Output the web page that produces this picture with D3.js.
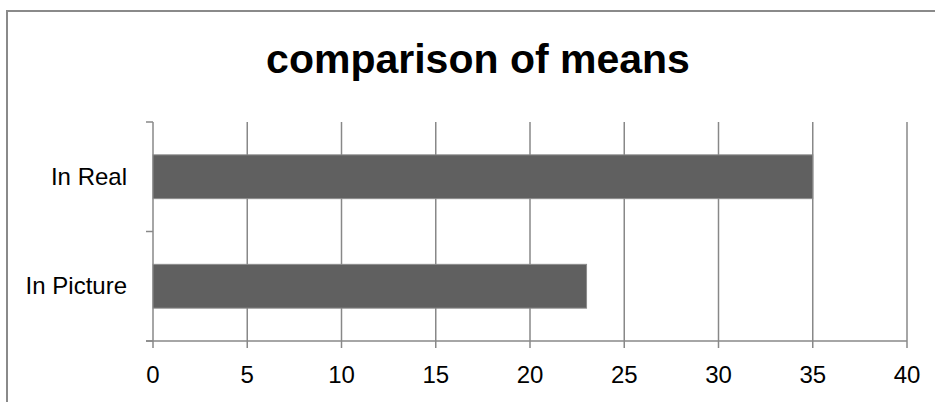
<!DOCTYPE html>
<html>
<head>
<meta charset="utf-8">
<script src="https://cdn.jsdelivr.net/npm/d3@7"></script>
<style>
  html, body { margin: 0; padding: 0; background: #fff; }
  svg { display: block; }
  text { font-family: "Liberation Sans", Arial, sans-serif; fill: #000; }
</style>
</head>
<body>
<svg id="chart" width="935" height="402"></svg>
<script>
// Chart data
const title = "comparison of means";
const categories = ["In Real", "In Picture"];
const means = [35, 23];
const xTicks = [0, 5, 10, 15, 20, 25, 30, 35, 40];

const svg = d3.select("#chart");
const W = 935, H = 402;
const plot = { left: 153, right: 907, top: 122, bottom: 341 };
const gridColor = "#888888";

// Outer frame (open on the right and bottom edges of the canvas)
svg.append("path")
  .attr("d", `M7,${H} V11 H${W}`)
  .attr("fill", "none")
  .attr("stroke", "#8a8a8a")
  .attr("stroke-width", 2);

// Title
svg.append("text")
  .attr("x", 478)
  .attr("y", 73)
  .attr("text-anchor", "middle")
  .style("font-size", "41px")
  .style("font-weight", "bold")
  .text(title);

const x = d3.scaleLinear()
  .domain([d3.min(xTicks), d3.max(xTicks)])
  .range([plot.left, plot.right]);

const y = d3.scaleBand()
  .domain(categories)
  .range([plot.top, plot.bottom])
  .paddingInner(0.6)
  .paddingOuter(0.3);

// Vertical gridlines, extending below the axis as tick marks
svg.append("g")
  .selectAll("line")
  .data(xTicks)
  .join("line")
  .attr("x1", d => x(d)).attr("x2", d => x(d))
  .attr("y1", plot.top).attr("y2", plot.bottom + 7)
  .attr("stroke", gridColor)
  .attr("stroke-width", 1.5);

// Category axis tick marks at band boundaries
const boundaries = d3.range(categories.length + 1).map(i => plot.top + i * y.step());
svg.append("g")
  .selectAll("line")
  .data(boundaries)
  .join("line")
  .attr("x1", plot.left - 7).attr("x2", plot.left)
  .attr("y1", d => d).attr("y2", d => d)
  .attr("stroke", gridColor)
  .attr("stroke-width", 1.5);

// Bars
svg.append("g")
  .selectAll("rect")
  .data(categories)
  .join("rect")
  .attr("x", x(0))
  .attr("y", d => y(d))
  .attr("width", (d, i) => x(means[i]) - x(0))
  .attr("height", y.bandwidth())
  .attr("fill", "#606060")
  .attr("stroke", "#8c8c8c")
  .attr("stroke-width", 1);

// Value axis line
svg.append("line")
  .attr("x1", plot.left - 7).attr("x2", plot.right)
  .attr("y1", plot.bottom).attr("y2", plot.bottom)
  .attr("stroke", gridColor)
  .attr("stroke-width", 1.5);

// Value axis labels
svg.append("g")
  .selectAll("text")
  .data(xTicks)
  .join("text")
  .attr("x", d => x(d))
  .attr("y", 383)
  .attr("text-anchor", "middle")
  .style("font-size", "24px")
  .text(d => d);

// Category labels
svg.append("g")
  .selectAll("text")
  .data(categories)
  .join("text")
  .attr("x", 127)
  .attr("y", d => y(d) + y.bandwidth() / 2 + 8)
  .attr("text-anchor", "end")
  .style("font-size", "24px")
  .text(d => d);
</script>
</body>
</html>
